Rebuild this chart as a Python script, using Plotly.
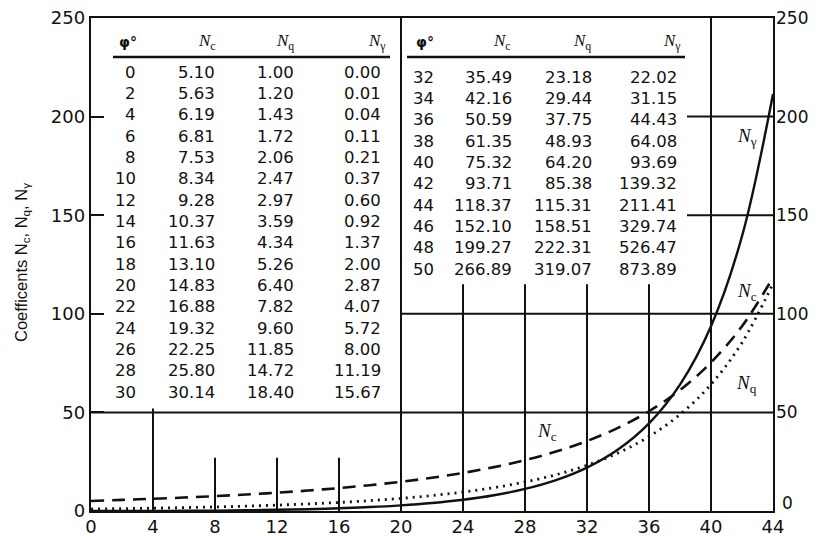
import plotly.graph_objects as go

phi = [0, 2, 4, 6, 8, 10, 12, 14, 16, 18, 20, 22, 24, 26, 28, 30,
       32, 34, 36, 38, 40, 42, 44, 46, 48, 50]
Nc = [5.10, 5.63, 6.19, 6.81, 7.53, 8.34, 9.28, 10.37, 11.63, 13.10, 14.83, 16.88,
      19.32, 22.25, 25.80, 30.14, 35.49, 42.16, 50.59, 61.35, 75.32, 93.71, 118.37,
      152.10, 199.27, 266.89]
Nq = [1.00, 1.20, 1.43, 1.72, 2.06, 2.47, 2.97, 3.59, 4.34, 5.26, 6.40, 7.82, 9.60,
      11.85, 14.72, 18.40, 23.18, 29.44, 37.75, 48.93, 64.20, 85.38, 115.31, 158.51,
      222.31, 319.07]
Ng = [0.00, 0.01, 0.04, 0.11, 0.21, 0.37, 0.60, 0.92, 1.37, 2.00, 2.87, 4.07, 5.72,
      8.00, 11.19, 15.67, 22.02, 31.15, 44.43, 64.08, 93.69, 139.32, 211.41, 329.74,
      526.47, 873.89]
x_ticks = [0, 4, 8, 12, 16, 20, 24, 28, 32, 36, 40, 44]
y_ticks = [0, 50, 100, 150, 200, 250]

# ---- layout geometry (page body has an 8px margin) ----
OFF = 8
W, H = 820 - OFF, 536 - OFF
L, T = 91 - OFF, 18 - OFF
R = W - (773 - OFF)
B = H - (511 - OFF)
X0, X1 = 0, 44
Y0, Y1 = 0, 250
pw, ph = W - L - R, H - T - B


def px2x(px):  # screen px -> data x
    return X0 + (px - OFF - L) / pw * (X1 - X0)


def px2y(py):  # screen px -> data y
    return Y0 + (H - B - (py - OFF)) / ph * (Y1 - Y0)


INK = "#111111"
FONT = "DejaVu Sans"
FS = 16.5
SERIF = "Liberation Serif"

n_plot = [i for i, p in enumerate(phi) if p <= 44]
xs = [phi[i] for i in n_plot]

fig = go.Figure()
fig.add_trace(go.Scatter(x=xs, y=[Nc[i] for i in n_plot], mode="lines", name="Nc",
                         line=dict(color=INK, width=2.6, dash="13px,8px", shape="spline")))
fig.add_trace(go.Scatter(x=xs, y=[Nq[i] for i in n_plot], mode="lines", name="Nq",
                         line=dict(color=INK, width=2.8, dash="2px,5px", shape="spline")))
fig.add_trace(go.Scatter(x=xs, y=[Ng[i] for i in n_plot], mode="lines", name="Ng",
                         line=dict(color=INK, width=2.4, shape="spline")))
fig.add_trace(go.Scatter(x=[0], y=[0], yaxis="y2", mode="markers",
                         marker=dict(opacity=0), showlegend=False, hoverinfo="skip"))

shapes = []
lw = 2


def vline(x, y0, y1):
    shapes.append(dict(type="line", xref="x", yref="y", x0=x, x1=x, y0=y0, y1=y1,
                       line=dict(color=INK, width=lw)))


def hline(y, x0, x1, w=lw):
    shapes.append(dict(type="line", xref="x", yref="y", x0=x0, x1=x1, y0=y, y1=y,
                       line=dict(color=INK, width=w)))


vline(4, 0, 52)
for xv in [8, 12, 16]:
    vline(xv, 0, 27)
vline(20, 0, 250)
for xv in [24, 28, 32, 36]:
    vline(xv, 0, 115)
vline(40, 0, 250)
hline(50, 0, 44)
hline(100, 20, 44)
hline(150, px2x(687), 44)
hline(200, px2x(687), 44)
hline(px2y(57), px2x(113), px2x(390), 2.6)
hline(px2y(57), px2x(407), px2x(685), 2.6)

ann = []


def txt(x, y, s, anchor="right", size=FS, font=FONT):
    ann.append(dict(x=x, y=y, xref="x", yref="y", text=s, showarrow=False,
                    xanchor=anchor, yanchor="middle",
                    font=dict(family=font, size=size, color=INK)))


def nlab(sub):
    return "<i>N</i><sub>%s</sub>" % sub


left_cols = [px2x(138), px2x(217), px2x(296), px2x(383)]
right_cols = [px2x(436), px2x(514), px2x(594), px2x(679)]
row_h = 21.35
hdr_y = px2y(42)
for hx in ([128, 207, 285, 377], [425, 502, 582, 672]):
    ann.append(dict(x=px2x(hx[0]), y=hdr_y, xref="x", yref="y", text="<b>φ°</b>",
                    showarrow=False, xanchor="center", yanchor="middle",
                    font=dict(family=FONT, size=14, color=INK)))
    for hxx, sub in zip(hx[1:], ["c", "q", "γ"]):
        ann.append(dict(x=px2x(hxx), y=hdr_y, xref="x", yref="y", text=nlab(sub),
                        showarrow=False, xanchor="center", yanchor="middle",
                        font=dict(family=SERIF, size=17, color=INK)))

for i, p in enumerate(phi):
    if p <= 30:
        cols = left_cols
        py = 72 + i * row_h
    else:
        cols = right_cols
        py = 77 + (i - 16) * row_h
    y = px2y(py)
    txt(cols[0], y, "%d" % p)
    txt(cols[1], y, "%.2f" % Nc[i])
    txt(cols[2], y, "%.2f" % Nq[i])
    txt(cols[3], y, "%.2f" % Ng[i])

for (xp, yp, sub) in [(747, 137, "γ"), (747, 292, "c"), (746, 384, "q"), (547, 432, "c")]:
    ann.append(dict(x=px2x(xp), y=px2y(yp), xref="x", yref="y", text=nlab(sub),
                    showarrow=False, xanchor="center", yanchor="middle",
                    font=dict(family=SERIF, size=19, color=INK)))

# right-hand "0" label sits slightly above the bottom axis in the original
ann.append(dict(x=1, y=px2y(503), xref="paper", yref="y", text=str(y_ticks[0]),
                showarrow=False, xanchor="left", yanchor="middle", xshift=7,
                font=dict(family=FONT, size=17, color=INK)))

ann.append(dict(x=(22 - OFF - L) / pw, y=1 - (263 - OFF - T) / ph, xref="paper", yref="paper",
                text="Coefficents N<sub>c</sub>, N<sub>q</sub>, N<sub>γ</sub>",
                textangle=-90, showarrow=False, xanchor="center", yanchor="middle",
                font=dict(family="Liberation Sans", size=16.5, color=INK)))

axis_font = dict(family=FONT, size=18, color=INK)
fig.update_layout(
    width=W, height=H,
    margin=dict(l=L, r=R, t=T, b=B, pad=0, autoexpand=False),
    paper_bgcolor="white", plot_bgcolor="white",
    showlegend=False,
    shapes=shapes, annotations=ann,
    xaxis=dict(range=[X0, X1], tickvals=x_ticks, ticks="", showgrid=False, zeroline=False,
               showline=True, linecolor=INK, linewidth=2.4, mirror=True, automargin=False,
               tickfont=axis_font, ticklabelstandoff=-2, ticklabeloverflow="allow"),
    yaxis=dict(range=[Y0, Y1], tickvals=y_ticks, ticks="inside", ticklen=13, tickwidth=2,
               tickcolor=INK, showgrid=False, zeroline=False, automargin=False,
               showline=True, linecolor=INK, linewidth=2.4, mirror=True,
               tickfont=axis_font, ticklabelstandoff=0, ticklabeloverflow="allow"),
    yaxis2=dict(range=[Y0, Y1], tickvals=y_ticks[1:], overlaying="y", side="right",
                ticks="", showgrid=False, zeroline=False, showline=False, automargin=False,
                tickfont=dict(family=FONT, size=17, color=INK),
                ticklabelstandoff=2, ticklabeloverflow="allow"),
)

fig.write_html("out.html")
